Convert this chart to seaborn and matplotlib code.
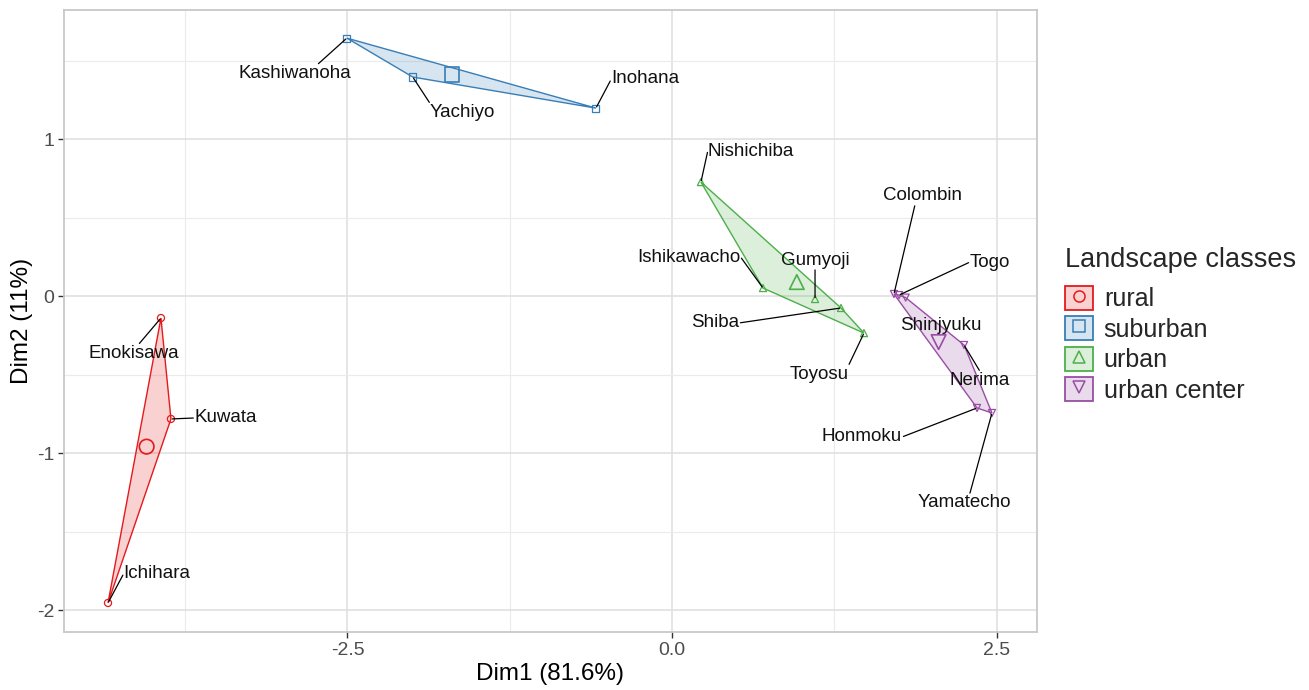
import numpy as np
import pandas as pd
import matplotlib
matplotlib.use("Agg")
import matplotlib.pyplot as plt
from matplotlib.patches import Patch, Polygon
from matplotlib.lines import Line2D
from matplotlib.ticker import MultipleLocator, FuncFormatter
from matplotlib.colors import to_rgba
import seaborn as sns

# PCA individual coordinates per site
sites = ["Enokisawa", "Kuwata", "Ichihara",
         "Kashiwanoha", "Yachiyo", "Inohana",
         "Nishichiba", "Ishikawacho", "Gumyoji", "Shiba", "Toyosu",
         "Colombin", "Togo", "Shinjyuku", "Nerima", "Honmoku", "Yamatecho"]
classes = ["rural", "rural", "rural",
           "suburban", "suburban", "suburban",
           "urban", "urban", "urban", "urban", "urban",
           "urban center", "urban center", "urban center",
           "urban center", "urban center", "urban center"]
dim1 = [-3.937, -3.860, -4.345,
        -2.505, -1.997, -0.586,
        0.223, 0.701, 1.102, 1.302, 1.479,
        1.710, 1.749, 1.800, 2.250, 2.350, 2.465]
dim2 = [-0.140, -0.783, -1.955,
        1.643, 1.395, 1.197,
        0.726, 0.051, -0.019, -0.076, -0.236,
        0.013, 0.006, -0.010, -0.312, -0.713, -0.745]

class_order = ["rural", "suburban", "urban", "urban center"]
class_colors = ["#E41A1C", "#377EB8", "#4DAF4A", "#984EA3"]
class_markers = ["o", "s", "^", "v"]

# repelled label placement: pixel offset of the label centre from its point,
# and where on the label box the leader segment attaches
label_offsets = {
    "Enokisawa": (-27, -35), "Kuwata": (55, 1), "Ichihara": (49, 29),
    "Kashiwanoha": (-52, -35), "Yachiyo": (50, -35), "Inohana": (49, 30),
    "Nishichiba": (50, 31), "Ishikawacho": (-74, 31), "Gumyoji": (0, 39),
    "Shiba": (-126, -15), "Toyosu": (-45, -41),
    "Colombin": (29, 98), "Togo": (91, 33), "Shinjyuku": (35, -28),
    "Nerima": (16, -35), "Honmoku": (-115, -29), "Yamatecho": (-28, -90),
}
segment_anchor = {
    "Enokisawa": (0.55, 1.0), "Kuwata": (0.0, 0.5), "Ichihara": (0.0, 0.5),
    "Kashiwanoha": (0.7, 1.0), "Yachiyo": (0.0, 1.0), "Inohana": (0.0, 0.4),
    "Nishichiba": (0.0, 0.5), "Ishikawacho": (1.0, 0.5), "Gumyoji": (0.5, 0.0),
    "Shiba": (1.0, 0.5), "Toyosu": (1.0, 1.0),
    "Colombin": (0.4, 0.0), "Togo": (0.0, 0.5),
    "Nerima": (0.5, 1.0), "Honmoku": (1.0, 0.5), "Yamatecho": (0.56, 1.0),
}

df = pd.DataFrame({"site": sites, "cls": classes, "dim1": dim1, "dim2": dim2})
centroids = (df.groupby("cls")[["dim1", "dim2"]].mean()
             .reindex(class_order).reset_index())


def convex_hull(pts):
    pts = sorted(map(tuple, pts))
    if len(pts) <= 2:
        return pts

    def cross(o, a, b):
        return (a[0] - o[0]) * (b[1] - o[1]) - (a[1] - o[1]) * (b[0] - o[0])

    lower, upper = [], []
    for p in pts:
        while len(lower) >= 2 and cross(lower[-2], lower[-1], p) <= 0:
            lower.pop()
        lower.append(p)
    for p in reversed(pts):
        while len(upper) >= 2 and cross(upper[-2], upper[-1], p) <= 0:
            upper.pop()
        upper.append(p)
    return lower[:-1] + upper[:-1]


sns.set_theme(style="whitegrid")
plt.rcParams["font.family"] = ["Liberation Sans", "DejaVu Sans"]

fig = plt.figure(figsize=(13.09, 6.90), dpi=100)
fig.subplots_adjust(left=64 / 1309, right=1037 / 1309,
                    top=1 - 10 / 690, bottom=1 - 632 / 690)
ax = fig.add_subplot(111)
ax.set_facecolor("white")

# convex hulls per class
for cls, col in zip(class_order, class_colors):
    sub = df[df["cls"] == cls][["dim1", "dim2"]].to_numpy()
    hull = convex_hull(sub)
    ax.add_patch(Polygon(hull, closed=True, facecolor=to_rgba(col, 0.2),
                         edgecolor=col, linewidth=1.0, zorder=2))

# individual points
sns.scatterplot(data=df, x="dim1", y="dim2", hue="cls", style="cls",
                hue_order=class_order, style_order=class_order,
                palette=class_colors, markers=class_markers,
                s=26, linewidth=0.9, legend=False, ax=ax, zorder=3)
coll = ax.collections[-1]
fc = coll.get_facecolors()
coll.set_edgecolors(fc)
coll.set_facecolors("none")

# class centroids
sns.scatterplot(data=centroids, x="dim1", y="dim2", hue="cls", style="cls",
                hue_order=class_order, style_order=class_order,
                palette=class_colors, markers=class_markers,
                s=110, linewidth=1.2, legend=False, ax=ax, zorder=4)
coll = ax.collections[-1]
fc = coll.get_facecolors()
coll.set_edgecolors(fc)
coll.set_facecolors("none")

# site labels with leader segments
for _, row in df.iterrows():
    name = row["site"]
    dx, dy = label_offsets[name]
    kw = {}
    if name in segment_anchor:
        kw["arrowprops"] = dict(arrowstyle="-", color="black", lw=0.9,
                                relpos=segment_anchor[name], patchA=None,
                                shrinkA=1, shrinkB=1)
    ax.annotate(name, xy=(row["dim1"], row["dim2"]),
                xytext=(dx, dy), textcoords="offset pixels",
                ha="center", va="center", fontsize=13.5, color="#111111",
                zorder=5, **kw)

ax.set_xlim(-4.684, 2.812)
ax.set_ylim(-2.140, 1.822)
ax.xaxis.set_major_locator(MultipleLocator(2.5))
ax.xaxis.set_minor_locator(MultipleLocator(1.25))
ax.yaxis.set_major_locator(MultipleLocator(1))
ax.yaxis.set_minor_locator(MultipleLocator(0.5))
ax.xaxis.set_major_formatter(FuncFormatter(lambda v, p: f"{v:.1f}"))
ax.yaxis.set_major_formatter(FuncFormatter(lambda v, p: f"{v:.0f}"))

ax.grid(True, which="major", color="#E0E0E0", linewidth=1.2)
ax.grid(True, which="minor", color="#EBEBEB", linewidth=0.8)
ax.set_axisbelow(True)
ax.tick_params(axis="both", which="major", length=4, width=1.0,
               color="#333333", labelcolor="#4D4D4D", labelsize=14,
               bottom=True, left=True, pad=3)
ax.tick_params(axis="both", which="minor", length=0)
for sp in ax.spines.values():
    sp.set_color("#C8C8C8")
    sp.set_linewidth(1.3)

ax.set_xlabel("Dim1 (81.6%)", fontsize=17.5, color="black", labelpad=3)
ax.set_ylabel("Dim2 (11%)", fontsize=17.5, color="black", labelpad=3)

# legend: filled key boxes with class marker
handles = []
for col, mk in zip(class_colors, class_markers):
    box = Patch(facecolor=to_rgba(col, 0.2), edgecolor=col, linewidth=1.3)
    mark = Line2D([], [], linestyle="", marker=mk, markersize=8,
                  markerfacecolor="none", markeredgecolor=col,
                  markeredgewidth=1.1)
    handles.append((box, mark))
leg = fig.legend(handles, class_order, title="Landscape classes",
                 loc="upper left", bbox_to_anchor=(1065 / 1309, 1 - 247 / 690),
                 frameon=False, fontsize=18, title_fontsize=19.5,
                 handlelength=1.1, handleheight=1.1, labelspacing=0.2,
                 handletextpad=0.45, borderpad=0, borderaxespad=0,
                 alignment="left")
leg._legend_box.sep = 9

fig.savefig("out.png", dpi=100, facecolor="white")
